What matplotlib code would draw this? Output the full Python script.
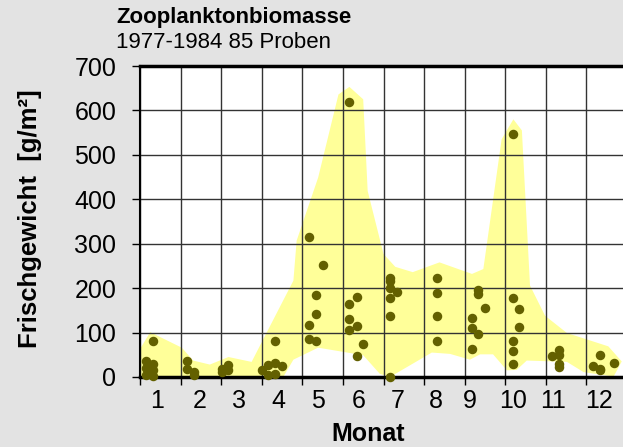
import numpy as np
from matplotlib import pyplot as plt

plt.rcParams['font.family'] = ['Liberation Sans', 'DejaVu Sans']

# Einzelproben: Position innerhalb des Monats (0..12) und Frischgewicht
monat_pos = [0.16, 0.16, 0.16, 0.33, 0.33, 0.33, 0.33,
             1.17, 1.17, 1.33, 1.33,
             2.01, 2.18, 2.01, 2.18,
             3.0, 3.16, 3.33, 3.5, 3.33, 3.33, 3.16,
             4.16, 4.5, 4.33, 4.33, 4.16, 4.16, 4.33,
             5.16, 5.34, 5.16, 5.16, 5.34, 5.16, 5.5, 5.34,
             6.16, 6.16, 6.16, 6.34, 6.16, 6.16, 6.16,
             7.33, 7.33, 7.33, 7.33,
             8.33, 8.33, 8.5, 8.17, 8.17, 8.33, 8.17,
             9.18, 9.18, 9.34, 9.34, 9.18, 9.18, 9.18,
             10.16, 10.33, 10.33, 10.33, 10.33,
             11.16, 11.33, 11.33, 11.33, 11.67]
gewicht = [37, 20, 5, 82, 30, 15, 3,
           37, 19, 11, 4,
           19, 28, 11, 15,
           16, 26, 32, 24, 81, 7, 4,
           316, 251, 185, 142, 117, 86, 81,
           620, 180, 164, 131, 115, 106, 75, 47,
           223, 216, 200, 191, 177, 138, 0,
           223, 189, 138, 80,
           196, 187, 156, 133, 110, 97, 63,
           546, 178, 153, 112, 82, 58, 30,
           47, 60, 49, 30, 22,
           24, 50, 19, 15, 31]

# Schwankungsbereich (Umriss oben, dann unten zurueck)
band_x = [-0.07, 0.25, 1.03, 1.31, 1.72, 2.18, 2.75, 3.78, 3.86, 4.39, 4.89,
          5.16, 5.5, 5.61, 5.67, 6.0, 6.29, 6.72, 7.38, 8.18, 8.46, 8.91,
          9.2, 9.41, 9.61, 9.98, 10.52, 11.54, 11.87,
          11.67, 10.93, 10.52, 9.53, 9.28, 9.04, 8.7, 8.38, 8.13, 7.64, 7.19,
          6.16, 5.91, 5.5, 4.39, 3.78, 3.53, -0.07]
band_y = [52, 101, 66, 37, 28, 45, 34, 217, 307, 449, 636,
          653, 625, 419, 397, 277, 248, 236, 258, 232, 243, 535,
          580, 555, 206, 138, 99, 69, 35,
          1, 11, 34, 37, 16, 15, 51, 51, 39, 52, 55,
          0, 7, 49, 66, 39, 0, 0]

monate = [str(m) for m in range(1, 13)]
# Beschriftungen stehen nicht ganz mittig im Monat
label_pos = [0.42, 1.48, 2.44, 3.40, 4.38, 5.39, 6.35, 7.29, 8.13, 9.19, 10.17, 11.31]

fig = plt.figure(figsize=(6.23, 4.47), dpi=100, facecolor='#e3e3e3')
ax = fig.add_axes([140 / 623, 1 - 377 / 447, 487 / 623, 311 / 447])
ax.set_facecolor('white')

ax.fill(band_x, band_y, color='#ffff99', lw=0, zorder=1)
ax.scatter(monat_pos, gewicht, s=34, color='#636000', zorder=3, clip_on=False)

ax.set_xlim(0, 12)
ax.set_ylim(0, 700)
ax.set_yticks(range(0, 701, 100))
ax.set_xticks(range(0, 13))
ax.set_xticklabels([])
ax.set_xticks(label_pos, minor=True)
ax.set_xticklabels(monate, minor=True)
ax.tick_params(axis='x', which='minor', length=0, pad=9, labelsize=18)
ax.tick_params(axis='x', which='major', length=6, width=1, direction='out')
ax.tick_params(axis='y', length=6, width=1, direction='out', labelsize=18, pad=11)

ax.grid(True, which='major', color='#333333', lw=1, zorder=2)
for ln in ax.get_xgridlines() + ax.get_ygridlines():
    ln.set_zorder(2)

ax.spines['top'].set_linewidth(2.5)
ax.spines['bottom'].set_linewidth(2.5)
ax.spines['left'].set_linewidth(1.5)
ax.spines['right'].set_visible(False)

fig.text(368 / 623, 1 - 434 / 447, 'Monat', fontsize=18, fontweight='bold',
         ha='center', va='center')
fig.text(30 / 623, 1 - 219 / 447, 'Frischgewicht  [g/m²]', fontsize=18.5,
         fontweight='bold', rotation=90, ha='center', va='center')

fig.text(116 / 623, 1 - 18 / 447, 'Zooplanktonbiomasse', fontsize=16,
         fontweight='bold', va='center', ha='left')
fig.text(116 / 623, 1 - 43 / 447, '1977-1984 85 Proben', fontsize=16,
         va='center', ha='left')

fig.savefig('out.png', dpi=100, facecolor=fig.get_facecolor())
